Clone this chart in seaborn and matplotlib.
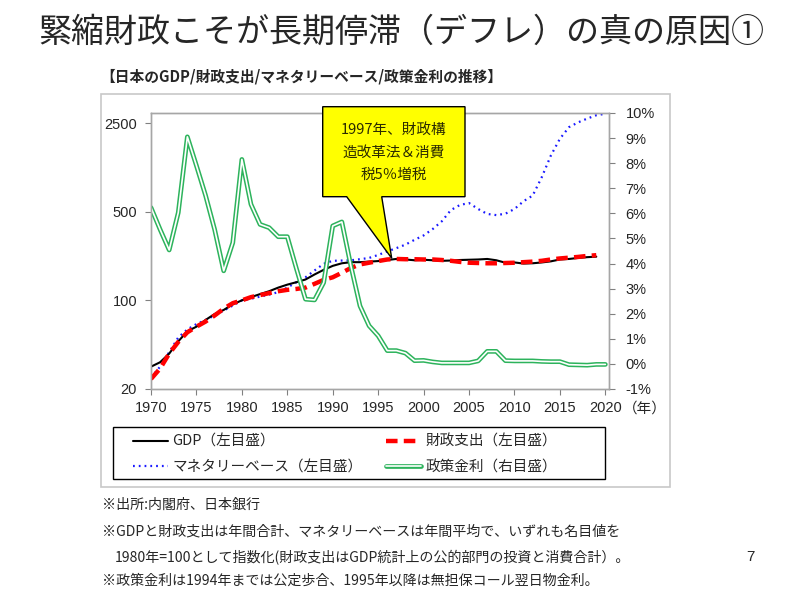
import matplotlib
matplotlib.use("Agg")
import matplotlib.pyplot as plt
import seaborn as sns
from matplotlib.patches import Polygon, Rectangle
from matplotlib.lines import Line2D
from matplotlib.ticker import FixedLocator, FixedFormatter, NullLocator

# index 1980=100 (left, log) / policy rate % (right)
years = list(range(1970, 2021))
gdp = [30, 32.5, 38, 47.5, 57, 62, 70, 78, 84, 93,
       100, 106, 112, 118, 126, 133, 139, 146, 160, 174,
       187, 196, 200, 200, 202, 204, 208, 212, 210, 207,
       209, 207, 205, 206, 208, 209, 210, 212, 207, 198,
       199, 195, 196, 199, 203, 210, 212, 216, 219, 221]
spending = [24, 29, 38, 47, 56, 62, 68, 76, 86, 95,
            100, 106, 110, 114, 118, 121, 123, 126, 135, 145,
            152, 165, 180, 192, 198, 204, 210, 212, 211, 211,
            210, 210, 208, 205, 201, 198, 197, 196, 196, 197,
            198, 200, 202, 205, 210, 214, 217, 220, 224, 227]
money_base = [24.6, 30, 39, 51, 59, 65, 70, 76, 83, 91,
              100, 103, 107, 111, 116, 126, 139, 152, 172, 194,
              205, 206, 207, 211, 216, 228, 243, 258, 275, 300,
              325, 365, 420, 515, 565, 585, 525, 480, 470, 482,
              525, 605, 670, 935, 1385, 1880, 2320, 2530, 2710, 2880, 2960]
policy_rate = [6.23, 5.36, 4.54, 6.03, 9.05, 7.9, 6.72, 5.36, 3.71, 4.83,
               8.15, 6.36, 5.56, 5.43, 5.07, 5.07, 3.8, 2.58, 2.55, 3.24,
               5.5, 5.66, 3.9, 2.31, 1.52, 1.12, 0.53, 0.53, 0.43, 0.13,
               0.14, 0.08, 0.04, 0.04, 0.04, 0.04, 0.12, 0.5, 0.5, 0.13,
               0.12, 0.12, 0.12, 0.1, 0.09, 0.09, -0.03, -0.04, -0.05, -0.02, -0.02]

left_ticks = [20, 100, 500, 2500]
right_ticks = list(range(-1, 11))
x_ticks = list(range(1970, 2021, 5))

labels = ["GDP（左目盛）", "マネタリーベース（左目盛）", "財政支出（左目盛）", "政策金利（右目盛）"]
notes = ["※出所:内閣府、日本銀行",
         "※GDPと財政支出は年間合計、マネタリーベースは年間平均で、いずれも名目値を",
         "1980年=100として指数化(財政支出はGDP統計上の公的部門の投資と消費合計）。",
         "※政策金利は1994年までは公定歩合、1995年以降は無担保コール翌日物金利。"]

sns.set_theme(style="white")
plt.rcParams["font.family"] = ["Liberation Sans", "Noto Sans CJK JP", "DejaVu Sans"]
JP = ["Noto Sans CJK JP", "DejaVu Sans"]

W, H = 800, 596
fig = plt.figure(figsize=(8, 5.96), dpi=100)


def fx(x):
    return x / W


def fy(y):
    return 1 - y / H


GREEN = "#2db35c"
ax = fig.add_axes([fx(151), fy(389), fx(609) - fx(151), fy(113) - fy(389)])
ax2 = ax.twinx()

sns.lineplot(x=years[:len(gdp)], y=gdp, ax=ax, color="black", lw=1.5, zorder=3)
sns.lineplot(x=years, y=money_base, ax=ax, color="#1a1aff", lw=1.6,
             linestyle=(0, (0.8, 1.8)), zorder=2)
sns.lineplot(x=years[:len(spending)], y=spending, ax=ax, color="#ff0000", lw=3.2,
             linestyle=(0, (2.6, 1.4)), zorder=4)
sns.lineplot(x=years, y=policy_rate, ax=ax2, color=GREEN, lw=3.4)
sns.lineplot(x=years, y=policy_rate, ax=ax2, color="white", lw=1.2)

ax.set_yscale("log")
ax.set_ylim(20, 3000)
ax.set_xlim(1970, 2020.4)
ax.yaxis.set_major_locator(FixedLocator(left_ticks))
ax.yaxis.set_major_formatter(FixedFormatter([str(t) for t in left_ticks]))
ax.yaxis.set_minor_locator(NullLocator())
ax.set_xticks(x_ticks)
ax.set_xticklabels([str(t) for t in x_ticks])
ax2.set_ylim(-1, 10)
ax2.set_yticks(right_ticks)
ax2.set_yticklabels([f"{t}%" for t in right_ticks])

for a in (ax, ax2):
    a.grid(False)
    a.set_xlabel("")
    a.set_ylabel("")
    for s in a.spines.values():
        s.set_color("#a6a6a6")
        s.set_linewidth(1.0)
ax.tick_params(axis="x", direction="out", length=4, width=0.8, color="#808080",
               pad=5, labelsize=10.5, bottom=True)
ax.tick_params(axis="y", direction="out", length=4, width=0.8, color="#808080",
               pad=6, labelsize=10.5, left=True)
ax2.tick_params(axis="y", direction="out", length=4, width=0.8, color="#808080",
                pad=8, labelsize=10.5, right=True)

fig.text(fx(623), fy(409), "（年）", fontsize=10.5, family=JP, va="center", ha="left")

# outer chart frame
fig.add_artist(Rectangle((fx(101), fy(487)), fx(670) - fx(101), fy(94) - fy(487),
                         transform=fig.transFigure, fill=False, ec="#c8c8c8", lw=1.2))

# callout
pts = [(322.7, 106.7), (465, 106.7), (465, 196.7), (381.7, 196.7),
       (391.7, 258.3), (346.7, 196.7), (322.7, 196.7)]
fig.add_artist(Polygon([(fx(x), fy(y)) for x, y in pts], closed=True,
                       transform=fig.transFigure, fc="#ffff00", ec="black",
                       lw=1.0, zorder=10))
fig.text(fx(394), fy(152.5), "1997年、財政構\n造改革法＆消費\n税5％増税", family=JP,
         fontsize=10.5, ha="center", va="center", linespacing=1.75,
         color="#2b2b00", zorder=11)

# legend: box drawn separately, entries placed inside
fig.add_artist(Rectangle((fx(113), fy(479)), fx(605) - fx(113), fy(427) - fy(479),
                         transform=fig.transFigure, fill=False, ec="black", lw=1.0))
handles = [Line2D([], [], color="black", lw=1.5),
           Line2D([], [], color="#1a1aff", lw=1.6, linestyle=(0, (0.8, 1.8))),
           Line2D([], [], color="#ff0000", lw=3.2, linestyle=(0, (2.6, 1.4))),
           (Line2D([], [], color=GREEN, lw=3.4), Line2D([], [], color="white", lw=1.2))]
leg = fig.legend(handles, labels, ncol=2, loc="center left",
                 bbox_to_anchor=(fx(133), fy(454.5)), borderpad=0, borderaxespad=0,
                 frameon=False, handlelength=2.4, handletextpad=0.3,
                 labelspacing=0.8, columnspacing=1.6,
                 prop={"family": JP, "size": 10.5})

# titles and notes
fig.text(fx(401), fy(32), "緊縮財政こそが長期停滞（デフレ）の真の原因①", family=JP,
         fontsize=23.8, ha="center", va="center")
fig.text(fx(100), fy(76), "【日本のGDP/財政支出/マネタリーベース/政策金利の推移】",
         family=JP, fontsize=10.6, ha="left", va="center", fontweight="bold")
note_pos = [(101.7, 505), (101.7, 531.7), (115, 558), (101.7, 581)]
for (x, y), t in zip(note_pos, notes):
    fig.text(fx(x), fy(y), t, family=JP, fontsize=10.1, ha="left", va="center")
fig.text(fx(750), fy(557), "7", fontsize=11, ha="center", va="center")

fig.savefig("out.png", dpi=100)
